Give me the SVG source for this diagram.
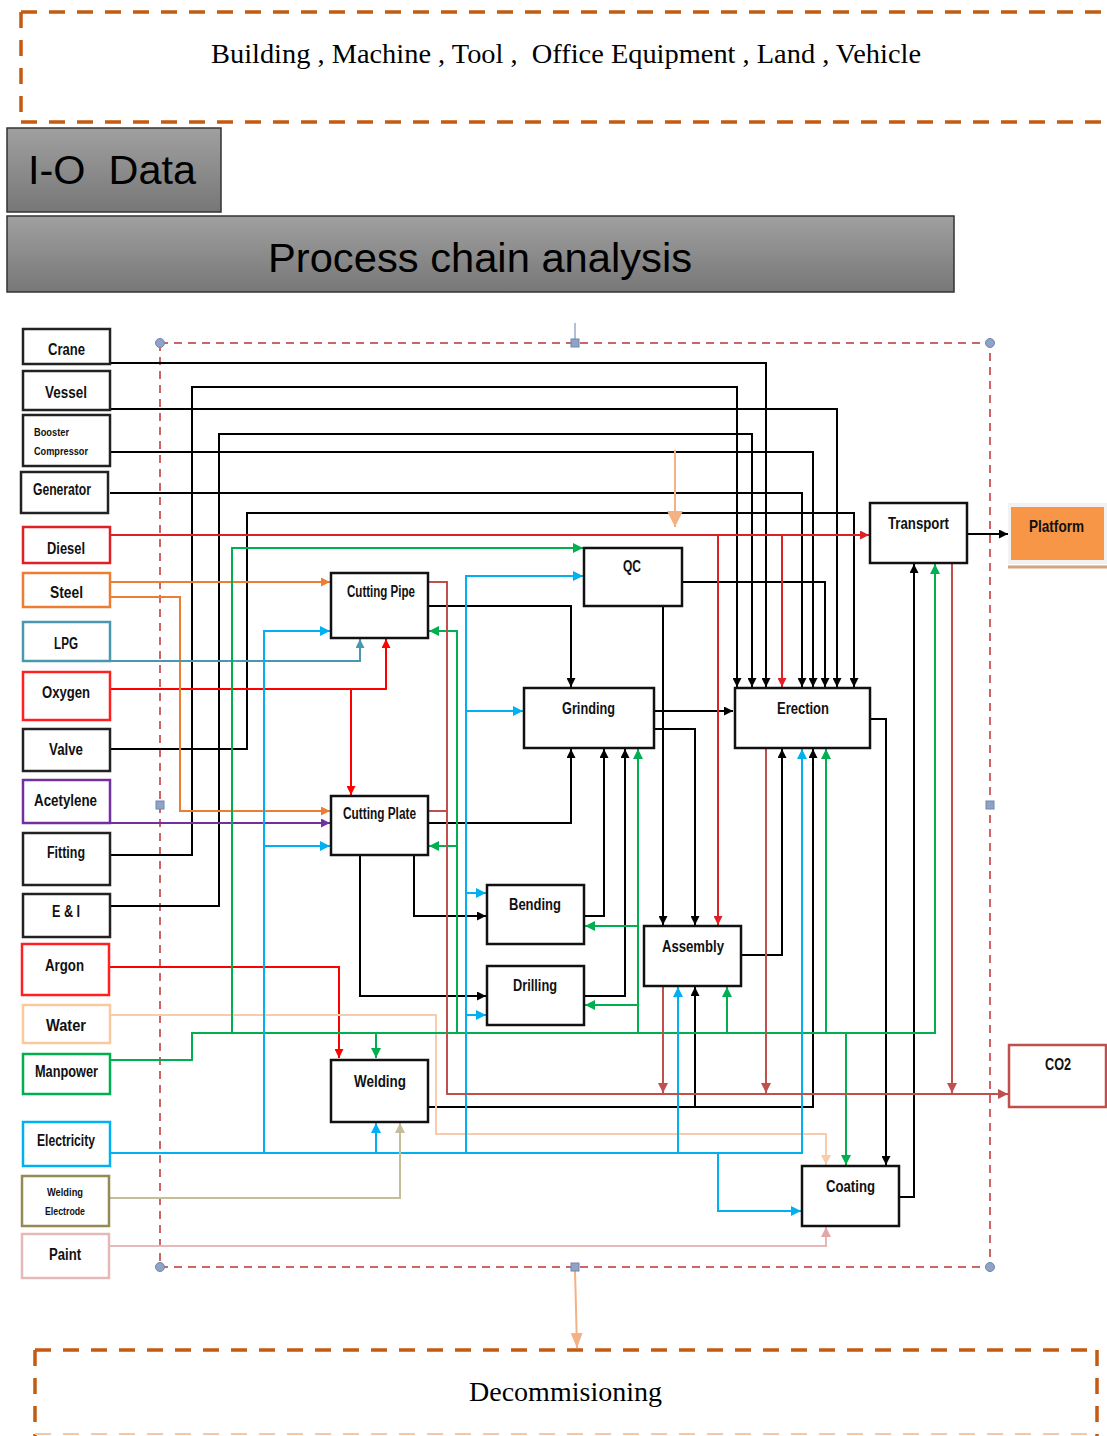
<svg xmlns="http://www.w3.org/2000/svg" width="1107" height="1436" viewBox="0 0 1107 1436">
<style>
.c{fill:none;stroke-width:2}
.k{stroke:#000}.r{stroke:#DD2127}.R{stroke:#FF0000}.o{stroke:#ED7D31}.tl{stroke:#4A98B0}.p{stroke:#7030A0}
.g{stroke:#00B050}.cy{stroke:#00B0F0}.ol{stroke:#C4BD97}.pk{stroke:#E6B9B8}.br{stroke:#C0504D}.pe{stroke:#F8CBAD}
.in{fill:#fff;stroke-width:2.5}
.pn{fill:#fff;stroke:#111;stroke-width:2.5}
.t{font-family:"Liberation Sans",Arial,sans-serif;font-weight:bold;font-size:16px;fill:#111}
.ts{font-family:"Liberation Sans",Arial,sans-serif;font-weight:bold;font-size:11.5px;fill:#111}
.serif{font-family:"Liberation Serif","Times New Roman",serif;fill:#000;white-space:pre}
.big{font-family:"Liberation Sans",Arial,sans-serif;fill:#000;white-space:pre}
.hd{fill:#8FA3C6;stroke:#6F86AE;stroke-width:1}
</style>
<defs>
<linearGradient id="gray" x1="0" y1="0" x2="0" y2="1"><stop offset="0" stop-color="#A0A0A0"/><stop offset="1" stop-color="#777"/></linearGradient>
<marker id="m-k" viewBox="0 0 10 10" refX="10" refY="5" markerWidth="9" markerHeight="9" markerUnits="userSpaceOnUse" orient="auto"><path d="M0,0L10,5L0,10z" fill="#000"/></marker>
<marker id="m-r" viewBox="0 0 10 10" refX="10" refY="5" markerWidth="9" markerHeight="9" markerUnits="userSpaceOnUse" orient="auto"><path d="M0,0L10,5L0,10z" fill="#DD2127"/></marker>
<marker id="m-R" viewBox="0 0 10 10" refX="10" refY="5" markerWidth="9" markerHeight="9" markerUnits="userSpaceOnUse" orient="auto"><path d="M0,0L10,5L0,10z" fill="#FF0000"/></marker>
<marker id="m-o" viewBox="0 0 10 10" refX="10" refY="5" markerWidth="9" markerHeight="9" markerUnits="userSpaceOnUse" orient="auto"><path d="M0,0L10,5L0,10z" fill="#ED7D31"/></marker>
<marker id="m-tl" viewBox="0 0 10 10" refX="10" refY="5" markerWidth="9" markerHeight="9" markerUnits="userSpaceOnUse" orient="auto"><path d="M0,0L10,5L0,10z" fill="#4A98B0"/></marker>
<marker id="m-p" viewBox="0 0 10 10" refX="10" refY="5" markerWidth="9" markerHeight="9" markerUnits="userSpaceOnUse" orient="auto"><path d="M0,0L10,5L0,10z" fill="#7030A0"/></marker>
<marker id="m-g" viewBox="0 0 10 10" refX="10" refY="5" markerWidth="10" markerHeight="10" markerUnits="userSpaceOnUse" orient="auto"><path d="M0,0L10,5L0,10z" fill="#00B050"/></marker>
<marker id="m-cy" viewBox="0 0 10 10" refX="10" refY="5" markerWidth="10" markerHeight="10" markerUnits="userSpaceOnUse" orient="auto"><path d="M0,0L10,5L0,10z" fill="#00B0F0"/></marker>
<marker id="m-ol" viewBox="0 0 10 10" refX="10" refY="5" markerWidth="10" markerHeight="10" markerUnits="userSpaceOnUse" orient="auto"><path d="M0,0L10,5L0,10z" fill="#C4BD97"/></marker>
<marker id="m-pk" viewBox="0 0 10 10" refX="10" refY="5" markerWidth="10" markerHeight="10" markerUnits="userSpaceOnUse" orient="auto"><path d="M0,0L10,5L0,10z" fill="#E0A9A8"/></marker>
<marker id="m-br" viewBox="0 0 10 10" refX="10" refY="5" markerWidth="10" markerHeight="10" markerUnits="userSpaceOnUse" orient="auto"><path d="M0,0L10,5L0,10z" fill="#C0504D"/></marker>
<marker id="m-pe" viewBox="0 0 10 10" refX="10" refY="5" markerWidth="10" markerHeight="10" markerUnits="userSpaceOnUse" orient="auto"><path d="M0,0L10,5L0,10z" fill="#F8CBAD"/></marker>
<marker id="m-lo" viewBox="0 0 10 10" refX="10" refY="5" markerWidth="16" markerHeight="16" markerUnits="userSpaceOnUse" orient="auto"><path d="M0,0L10,5L0,10z" fill="#F4B183"/></marker>
<marker id="m-lo2" viewBox="0 0 10 10" refX="10" refY="5" markerWidth="15" markerHeight="12" markerUnits="userSpaceOnUse" orient="auto" preserveAspectRatio="none"><path d="M0,0L10,5L0,10z" fill="#F4B183"/></marker>
</defs>
<rect width="1107" height="1436" fill="#fff"/>

<!-- header boxes -->
<g id="assets">
<path d="M21,12 H1107 M21,122 H1107 M21,12 V122" fill="none" stroke="#C55A11" stroke-width="3.5" stroke-dasharray="16 12"/>
<text class="serif" x="211" y="63" font-size="28" textLength="710" lengthAdjust="spacingAndGlyphs" xml:space="preserve">Building , Machine , Tool ,  Office Equipment , Land , Vehicle</text>
</g>
<g id="io-data">
<rect x="7" y="128" width="214" height="84" fill="url(#gray)" stroke="#333" stroke-width="1.5"/>
<text class="big" x="28" y="184" font-size="40" textLength="168" lengthAdjust="spacingAndGlyphs" xml:space="preserve">I-O  Data</text>
</g>
<g id="process-chain">
<rect x="7" y="216" width="947" height="76" fill="url(#gray)" stroke="#333" stroke-width="1.5"/>
<text class="big" x="268" y="272" font-size="41" textLength="424" lengthAdjust="spacingAndGlyphs">Process chain analysis</text>
</g>

<!-- system boundary -->
<g id="boundary">
<line x1="575" y1="323" x2="575" y2="343" stroke="#8096B8" stroke-width="1.2"/>
<rect x="160" y="343" width="830" height="924" fill="none" stroke="#CC6666" stroke-width="2" stroke-dasharray="8 6"/>
</g>

<g id="connectors">
<!-- black -->
<path class="c k" d="M110,363 H766 V687" marker-end="url(#m-k)"/>
<path class="c k" d="M110,409 H837 V687" marker-end="url(#m-k)"/>
<path class="c k" d="M110,452 H813 V687" marker-end="url(#m-k)"/>
<path class="c k" d="M110,493 H802 V687" marker-end="url(#m-k)"/>
<path class="c k" d="M110,855 H192 V387 H737 V687" marker-end="url(#m-k)"/>
<path class="c k" d="M110,906 H219 V434 H752 V687" marker-end="url(#m-k)"/>
<path class="c k" d="M110,749 H247 V513 H854 V687" marker-end="url(#m-k)"/>
<path class="c k" d="M682,582 H825 V687" marker-end="url(#m-k)"/>
<path class="c k" d="M663,606 V925" marker-end="url(#m-k)"/>
<path class="c k" d="M428,606 H571 V687" marker-end="url(#m-k)"/>
<path class="c k" d="M654,711 H733" marker-end="url(#m-k)"/>
<path class="c k" d="M654,729 H695 V925" marker-end="url(#m-k)"/>
<path class="c k" d="M428,823 H571 V749" marker-end="url(#m-k)"/>
<path class="c k" d="M414,855 V916 H486" marker-end="url(#m-k)"/>
<path class="c k" d="M360,855 V996 H486" marker-end="url(#m-k)"/>
<path class="c k" d="M584,916 H604 V749" marker-end="url(#m-k)"/>
<path class="c k" d="M584,996 H625 V749" marker-end="url(#m-k)"/>
<path class="c k" d="M741,955 H782 V749" marker-end="url(#m-k)"/>
<path class="c k" d="M428,1107 H813 V749" marker-end="url(#m-k)"/>
<path class="c k" d="M695,1107 V987" marker-end="url(#m-k)"/>
<path class="c k" d="M870,719 H886 V1165" marker-end="url(#m-k)"/>
<path class="c k" d="M899,1197 H914 V564" marker-end="url(#m-k)"/>
<path class="c k" d="M967,534 H1008" marker-end="url(#m-k)"/>
<!-- diesel -->
<path class="c r" d="M110,535 H869" marker-end="url(#m-r)"/>
<path class="c r" d="M718,535 V925" marker-end="url(#m-r)"/>
<path class="c r" d="M782,535 V687" marker-end="url(#m-r)"/>
<!-- oxygen / argon -->
<path class="c R" d="M110,689 H386 V639" marker-end="url(#m-R)"/>
<path class="c R" d="M351,689 V795" marker-end="url(#m-R)"/>
<path class="c R" d="M110,967 H339 V1058" marker-end="url(#m-R)"/>
<!-- steel -->
<path class="c o" d="M110,582 H330" marker-end="url(#m-o)"/>
<path class="c o" d="M110,597 H180 V811 H330" marker-end="url(#m-o)"/>
<!-- LPG -->
<path class="c tl" d="M110,661 H360 V639" marker-end="url(#m-tl)"/>
<!-- acetylene -->
<path class="c p" d="M110,823 H330" marker-end="url(#m-p)"/>
<!-- water -->
<path class="c pe" d="M110,1015 H436 V1134 H826 V1165" marker-end="url(#m-pe)"/>
<!-- manpower -->
<path class="c g" d="M110,1060 H192 V1033 H935 V564" marker-end="url(#m-g)"/>
<path class="c g" d="M232,1033 V548 H583" marker-end="url(#m-g)"/>
<path class="c g" d="M376,1033 V1058" marker-end="url(#m-g)"/>
<path class="c g" d="M457,1033 V631 H429" marker-end="url(#m-g)"/>
<path class="c g" d="M457,846 H429" marker-end="url(#m-g)"/>
<path class="c g" d="M638,1033 V749" marker-end="url(#m-g)"/>
<path class="c g" d="M638,926 H585" marker-end="url(#m-g)"/>
<path class="c g" d="M638,1005 H585" marker-end="url(#m-g)"/>
<path class="c g" d="M727,1033 V987" marker-end="url(#m-g)"/>
<path class="c g" d="M826,1033 V749" marker-end="url(#m-g)"/>
<path class="c g" d="M846,1033 V1165" marker-end="url(#m-g)"/>
<!-- electricity -->
<path class="c cy" d="M110,1153 H802 V749" marker-end="url(#m-cy)"/>
<path class="c cy" d="M264,1153 V631 H330" marker-end="url(#m-cy)"/>
<path class="c cy" d="M264,846 H330" marker-end="url(#m-cy)"/>
<path class="c cy" d="M376,1153 V1123" marker-end="url(#m-cy)"/>
<path class="c cy" d="M466,1153 V576 H583" marker-end="url(#m-cy)"/>
<path class="c cy" d="M466,711 H523" marker-end="url(#m-cy)"/>
<path class="c cy" d="M466,893 H486" marker-end="url(#m-cy)"/>
<path class="c cy" d="M466,1015 H486" marker-end="url(#m-cy)"/>
<path class="c cy" d="M678,1153 V987" marker-end="url(#m-cy)"/>
<path class="c cy" d="M718,1153 V1211 H801" marker-end="url(#m-cy)"/>
<!-- welding electrode -->
<path class="c ol" d="M110,1198 H400 V1123" marker-end="url(#m-ol)"/>
<!-- paint -->
<path class="c pk" d="M110,1246 H826 V1227" marker-end="url(#m-pk)"/>
<!-- CO2 emissions -->
<path class="c br" d="M428,582 H447 V1094 H1008" marker-end="url(#m-br)"/>
<path class="c br" d="M428,811 H447"/>
<path class="c br" d="M663,986 V1093" marker-end="url(#m-br)"/>
<path class="c br" d="M766,749 V1093" marker-end="url(#m-br)"/>
<path class="c br" d="M952,563 V1093" marker-end="url(#m-br)"/>
<!-- external flows -->
<path class="c" stroke="#F4B183" d="M675,450 V527" marker-end="url(#m-lo)"/>
<path class="c" stroke="#F4B183" d="M575,1270 L577,1348" marker-end="url(#m-lo2)"/>
</g>

<g id="boundary-handles">
<circle class="hd" cx="160" cy="343" r="4.5"/>
<circle class="hd" cx="990" cy="343" r="4.5"/>
<circle class="hd" cx="160" cy="1267" r="4.5"/>
<circle class="hd" cx="990" cy="1267" r="4.5"/>
<rect class="hd" x="571" y="339" width="8" height="8"/>
<rect class="hd" x="156" y="801" width="8" height="8"/>
<rect class="hd" x="986" y="801" width="8" height="8"/>
<rect class="hd" x="571" y="1263" width="8" height="8"/>
</g>

<!-- input nodes -->
<g id="n-crane"><rect class="in" x="23" y="329" width="87" height="35" stroke="#222"/><text class="t" x="48" y="355" textLength="37" lengthAdjust="spacingAndGlyphs">Crane</text></g>
<g id="n-vessel"><rect class="in" x="23" y="371" width="87" height="39" stroke="#222"/><text class="t" x="45" y="398" textLength="42" lengthAdjust="spacingAndGlyphs">Vessel</text></g>
<g id="n-booster"><rect class="in" x="23" y="415" width="87" height="51" stroke="#222"/><text class="ts" x="34" y="436" textLength="35" lengthAdjust="spacingAndGlyphs">Booster</text><text class="ts" x="34" y="455" textLength="54" lengthAdjust="spacingAndGlyphs">Compressor</text></g>
<g id="n-generator"><rect class="in" x="21" y="472" width="87" height="41" stroke="#222"/><text class="t" x="33" y="495" textLength="58" lengthAdjust="spacingAndGlyphs">Generator</text></g>
<g id="n-diesel"><rect class="in" x="23" y="527" width="87" height="36" stroke="#DD2127"/><text class="t" x="47" y="554" textLength="38" lengthAdjust="spacingAndGlyphs">Diesel</text></g>
<g id="n-steel"><rect class="in" x="23" y="573" width="87" height="34" stroke="#ED7D31"/><text class="t" x="50" y="598" textLength="33" lengthAdjust="spacingAndGlyphs">Steel</text></g>
<g id="n-lpg"><rect class="in" x="23" y="622" width="87" height="39" stroke="#4A98B0"/><text class="t" x="54" y="649" textLength="24" lengthAdjust="spacingAndGlyphs">LPG</text></g>
<g id="n-oxygen"><rect class="in" x="23" y="672" width="87" height="48" stroke="#FF2020"/><text class="t" x="42" y="698" textLength="48" lengthAdjust="spacingAndGlyphs">Oxygen</text></g>
<g id="n-valve"><rect class="in" x="23" y="729" width="87" height="42" stroke="#222"/><text class="t" x="49" y="755" textLength="34" lengthAdjust="spacingAndGlyphs">Valve</text></g>
<g id="n-acetylene"><rect class="in" x="23" y="780" width="87" height="43" stroke="#7030A0"/><text class="t" x="34" y="806" textLength="63" lengthAdjust="spacingAndGlyphs">Acetylene</text></g>
<g id="n-fitting"><rect class="in" x="23" y="833" width="87" height="52" stroke="#222"/><text class="t" x="47" y="858" textLength="38" lengthAdjust="spacingAndGlyphs">Fitting</text></g>
<g id="n-ei"><rect class="in" x="23" y="894" width="87" height="43" stroke="#222"/><text class="t" x="52" y="917" textLength="28" lengthAdjust="spacingAndGlyphs">E &amp; I</text></g>
<g id="n-argon"><rect class="in" x="22" y="944" width="87" height="51" stroke="#FF2020"/><text class="t" x="45" y="971" textLength="39" lengthAdjust="spacingAndGlyphs">Argon</text></g>
<g id="n-water"><rect class="in" x="23" y="1005" width="87" height="38" stroke="#F9C9A0"/><text class="t" x="46" y="1031" textLength="40" lengthAdjust="spacingAndGlyphs">Water</text></g>
<g id="n-manpower"><rect class="in" x="23" y="1054" width="87" height="40" stroke="#00B050"/><text class="t" x="35" y="1077" textLength="63" lengthAdjust="spacingAndGlyphs">Manpower</text></g>
<g id="n-electricity"><rect class="in" x="23" y="1122" width="87" height="44" stroke="#00B0F0"/><text class="t" x="37" y="1146" textLength="58" lengthAdjust="spacingAndGlyphs">Electricity</text></g>
<g id="n-welding-electrode"><rect class="in" x="22" y="1176" width="87" height="50" stroke="#948A54"/><text class="ts" x="47" y="1196" textLength="36" lengthAdjust="spacingAndGlyphs">Welding</text><text class="ts" x="45" y="1215" textLength="40" lengthAdjust="spacingAndGlyphs">Electrode</text></g>
<g id="n-paint"><rect class="in" x="22" y="1234" width="87" height="44" stroke="#E6B9B8"/><text class="t" x="49" y="1260" textLength="32" lengthAdjust="spacingAndGlyphs">Paint</text></g>

<!-- process nodes -->
<g id="p-cutting-pipe"><rect class="pn" x="331" y="573" width="97" height="65"/><text class="t" x="347" y="597" textLength="68" lengthAdjust="spacingAndGlyphs">Cutting Pipe</text></g>
<g id="p-qc"><rect class="pn" x="584" y="548" width="98" height="58"/><text class="t" x="623" y="572" textLength="18" lengthAdjust="spacingAndGlyphs">QC</text></g>
<g id="p-transport"><rect class="pn" x="870" y="503" width="97" height="60"/><text class="t" x="888" y="529" textLength="61" lengthAdjust="spacingAndGlyphs">Transport</text></g>
<g id="p-platform"><rect x="1008" y="503" width="99" height="61" fill="#F2F2F2"/><rect x="1011" y="507" width="93" height="53" fill="#F79646"/><line x1="1008" y1="567" x2="1107" y2="567" stroke="#D4A27E" stroke-width="3"/><text class="t" x="1029" y="532" textLength="55" lengthAdjust="spacingAndGlyphs">Platform</text></g>
<g id="p-grinding"><rect class="pn" x="524" y="688" width="130" height="60"/><text class="t" x="562" y="714" textLength="53" lengthAdjust="spacingAndGlyphs">Grinding</text></g>
<g id="p-erection"><rect class="pn" x="735" y="688" width="135" height="60"/><text class="t" x="777" y="714" textLength="52" lengthAdjust="spacingAndGlyphs">Erection</text></g>
<g id="p-cutting-plate"><rect class="pn" x="331" y="796" width="97" height="59"/><text class="t" x="343" y="819" textLength="73" lengthAdjust="spacingAndGlyphs">Cutting Plate</text></g>
<g id="p-bending"><rect class="pn" x="487" y="885" width="97" height="59"/><text class="t" x="509" y="910" textLength="52" lengthAdjust="spacingAndGlyphs">Bending</text></g>
<g id="p-assembly"><rect class="pn" x="644" y="926" width="97" height="60"/><text class="t" x="662" y="952" textLength="62" lengthAdjust="spacingAndGlyphs">Assembly</text></g>
<g id="p-drilling"><rect class="pn" x="487" y="966" width="97" height="59"/><text class="t" x="513" y="991" textLength="44" lengthAdjust="spacingAndGlyphs">Drilling</text></g>
<g id="p-welding"><rect class="pn" x="331" y="1060" width="97" height="62"/><text class="t" x="354" y="1087" textLength="52" lengthAdjust="spacingAndGlyphs">Welding</text></g>
<g id="p-coating"><rect class="pn" x="802" y="1166" width="97" height="60"/><text class="t" x="826" y="1192" textLength="49" lengthAdjust="spacingAndGlyphs">Coating</text></g>
<g id="p-co2"><rect x="1009" y="1045" width="97" height="62" fill="#fff" stroke="#C0504D" stroke-width="2.5"/><text class="t" x="1045" y="1070" textLength="26" lengthAdjust="spacingAndGlyphs">CO2</text></g>

<g id="decommissioning">
<path d="M35,1350 H1097 M35,1350 V1436 M1097,1350 V1436" fill="none" stroke="#C55A11" stroke-width="3.5" stroke-dasharray="16 12"/>
<path d="M35,1434 H1097" fill="none" stroke="#F4C7A8" stroke-width="2" stroke-dasharray="16 12"/>
<text class="serif" x="469" y="1401" font-size="27" textLength="193" lengthAdjust="spacingAndGlyphs">Decommisioning</text>
</g>
</svg>
